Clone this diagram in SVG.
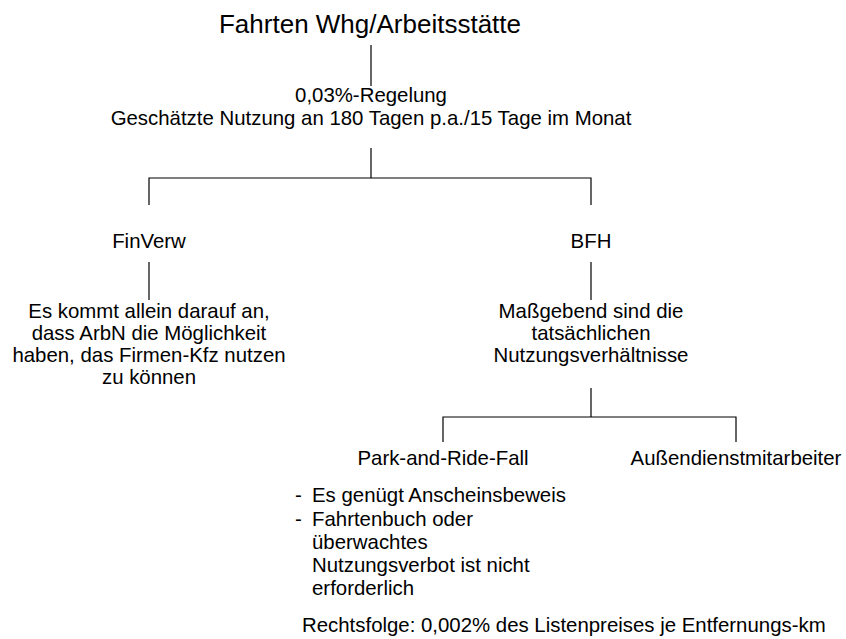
<svg xmlns="http://www.w3.org/2000/svg" width="846" height="639" viewBox="0 0 846 639">
  <style>
    text { font-family: "Liberation Sans", Arial, sans-serif; fill: #000; }
    .t { font-size: 26px; }
    .b { font-size: 20.4px; }
    .c { text-anchor: middle; }
    .ln { stroke: #000; stroke-width: 1.2; fill: none; }
  </style>
  <rect width="846" height="639" fill="#fff"/>

  <!-- tree connectors -->
  <g id="connectors">
    <path class="ln" d="M371 45 V86"/>
    <path class="ln" d="M371 148 V178 M149 205 V178 H591 V205"/>
    <path class="ln" d="M149 262 V300"/>
    <path class="ln" d="M591 262 V300"/>
    <path class="ln" d="M591 388 V417 M443 442 V417 H736 V442"/>
  </g>

  <g id="root">
    <text class="t c" x="370" y="33">Fahrten Whg/Arbeitsstätte</text>
  </g>

  <g id="rule">
    <text class="b c" x="371" y="102">0,03%-Regelung</text>
    <text class="b c" x="371" y="125">Geschätzte Nutzung an 180 Tagen p.a./15 Tage im Monat</text>
  </g>

  <g id="finverw">
    <text class="b c" x="149" y="248">FinVerw</text>
  </g>

  <g id="finverw-text">
    <text class="b c" x="149" y="318">Es kommt allein darauf an,</text>
    <text class="b c" x="149" y="340">dass ArbN die Möglichkeit</text>
    <text class="b c" x="149" y="362">haben, das Firmen-Kfz nutzen</text>
    <text class="b c" x="149" y="384">zu können</text>
  </g>

  <g id="bfh">
    <text class="b c" x="591" y="248">BFH</text>
  </g>

  <g id="bfh-text">
    <text class="b c" x="591" y="318">Maßgebend sind die</text>
    <text class="b c" x="591" y="340">tatsächlichen</text>
    <text class="b c" x="591" y="362">Nutzungsverhältnisse</text>
  </g>

  <g id="park-and-ride">
    <text class="b c" x="443" y="465">Park-and-Ride-Fall</text>
  </g>

  <g id="aussendienst">
    <text class="b c" x="736" y="465">Außendienstmitarbeiter</text>
  </g>

  <g id="park-and-ride-details">
    <text class="b" x="295" y="502">-</text>
    <text class="b" x="312" y="502">Es genügt Anscheinsbeweis</text>
    <text class="b" x="295" y="526">-</text>
    <text class="b" x="312" y="526">Fahrtenbuch oder</text>
    <text class="b" x="312" y="549">überwachtes</text>
    <text class="b" x="312" y="572">Nutzungsverbot ist nicht</text>
    <text class="b" x="312" y="595">erforderlich</text>
  </g>

  <g id="rechtsfolge">
    <text class="b" x="302" y="632">Rechtsfolge: 0,002% des Listenpreises je Entfernungs-km</text>
  </g>
</svg>
